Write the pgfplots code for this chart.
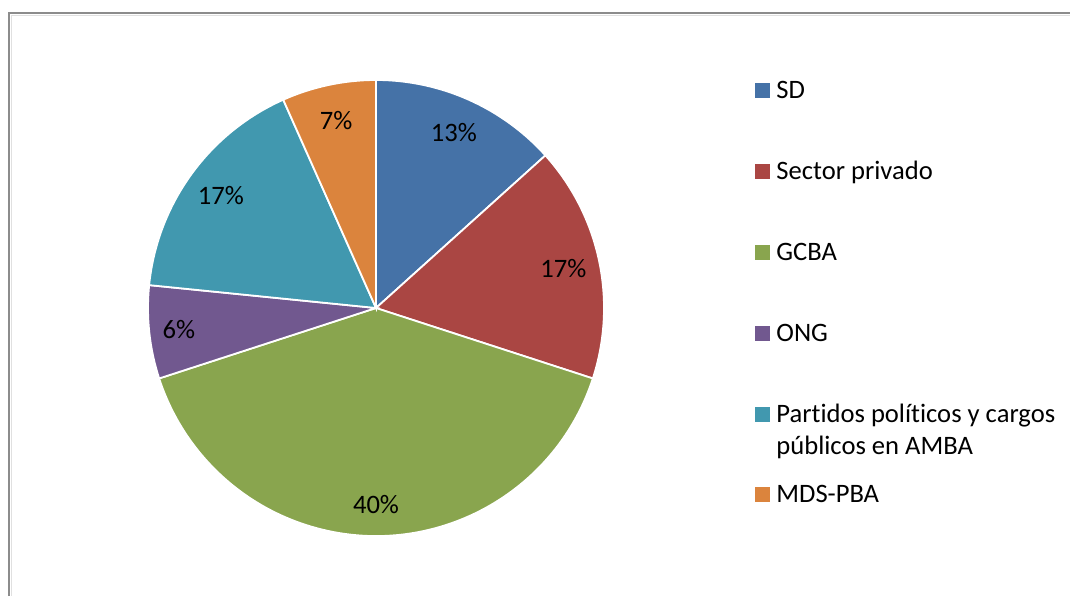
\documentclass[border=0pt]{standalone}
\usepackage{pgfplots}
\pgfplotsset{compat=1.18}
\usepackage{fontspec}
\setmainfont{Carlito}[Ligatures=NoCommon]
\definecolor{cSD}{HTML}{4572A7}
\definecolor{cSP}{HTML}{AA4643}
\definecolor{cGC}{HTML}{89A54E}
\definecolor{cON}{HTML}{71588F}
\definecolor{cPP}{HTML}{4198AF}
\definecolor{cMD}{HTML}{DB843D}
\newcommand\lblfont{\fontsize{13.3}{15}\selectfont}
\begin{document}
\begin{tikzpicture}
\useasboundingbox (0,0) rectangle (535pt,298pt);
\fill[white] (0,0) rectangle (535pt,298pt);
% chart frame
\draw[color=black!45, line width=1.1pt] (4.5pt,0) -- (4.5pt,291.5pt) -- (535pt,291.5pt);
\draw[color=black!12, line width=0.6pt] (5.7pt,0) -- (5.7pt,290.3pt) -- (535pt,290.3pt);
\begin{axis}[hide axis, x=114pt, y=114pt, xmin=-1, xmax=1, ymin=-1, ymax=1,
  clip=false, anchor=center, at={(188pt,144pt)}]
\gdef\cum{90}
\foreach \v/\c/\l/\r in {13.33/cSD/13/0.84, 16.67/cSP/17/0.84, 40/cGC/40/0.86, 6.6/cON/6/0.87, 16.73/cPP/17/0.84, 6.67/cMD/7/0.84}{
  \pgfmathsetmacro\a{\cum}
  \pgfmathsetmacro\b{\cum-3.6*\v}
  \pgfmathsetmacro\m{(\a+\b)/2}
  \edef\tmp{\noexpand\fill[\c, draw=white, line width=0.9pt] (axis cs:0,0) -- (axis cs:{cos(\a)},{sin(\a)}) arc[start angle=\a, end angle=\b, radius=114pt] -- cycle;
    \noexpand\node[font=\noexpand\lblfont, text=black] at (axis cs:{\r*cos(\m)},{\r*sin(\m)}) {\l\noexpand\%};}
  \tmp
  \xdef\cum{\b}
}
\end{axis}
% legend
\foreach \y/\c/\t in {249/cSD/SD, 208.5/cSP/Sector privado, 168/cGC/GCBA, 127.5/cON/ONG, 87/cPP/Partidos políticos y cargos, 47/cMD/MDS-PBA}{
  \fill[\c] (377.5pt,\y pt) rectangle (385pt,\y pt+7.5pt);
  \node[anchor=base west, inner sep=0pt, font=\lblfont] at (388pt,\y pt) {\t};
}
\node[anchor=base west, inner sep=0pt, font=\lblfont] at (388pt,71pt) {públicos en AMBA};
\end{tikzpicture}
\end{document}
